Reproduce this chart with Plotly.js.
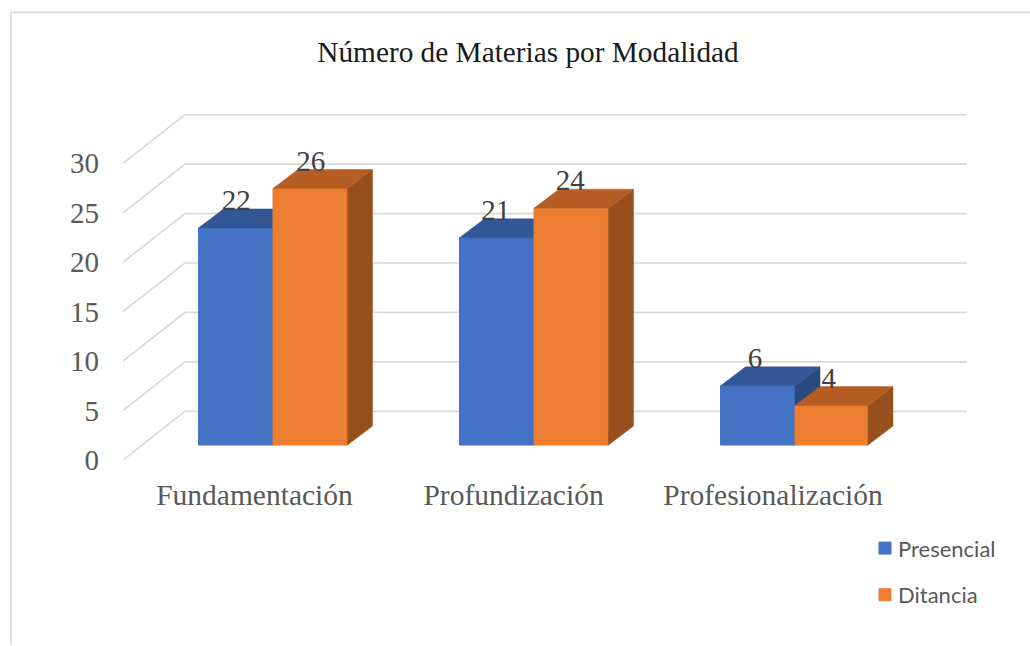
<!DOCTYPE html>
<html>
<head>
<meta charset="utf-8">
<script src="https://cdn.plot.ly/plotly-3.0.1.min.js"></script>
<style>html,body{margin:0;padding:0;background:#fff}#c{width:1030px;height:646px}</style>
</head>
<body>
<div id="c"></div>
<script>
var categories = ['Fundamentación', 'Profundización', 'Profesionalización'];
var presencial = [22, 21, 6];
var distancia = [26, 24, 4];
var seriesNames = ['Presencial', 'Ditancia'];
var axisTicks = [0, 5, 10, 15, 20, 25, 30];

var W = 1030, H = 646;
var m = {l: 123, r: 63, t: 113.5, b: 185.5};
var pw = W - m.l - m.r, ph = H - m.t - m.b;
var idx = categories.map(function (_, i) { return i; });

var xRange = [-0.5747, 2.659];
var wallRange = [0, 34.99];
var barRange = [-1.515, 33.54];
var barW = 0.2854;
var blueWidths = [barW, barW, barW];
var orangeWidths = [barW, barW, 0.2797];
var depthX = 0.0958, depthY = 1.92;
var wallX = 0.2375, wallY = 4.92;
var labelLift = 2.55;
var categoryLabelShift = [-0.0709, -0.0785, -0.0843];
var valueLabelShift = [0.002, -0.004, -0.011];

function faces(values, left, widths) {
  var top = {x: [], y: []}, side = {x: [], y: []};
  values.forEach(function (v, i) {
    var a = i + left, b = a + widths[i];
    top.x.push(a, a + depthX, b + depthX, b, a, null);
    top.y.push(v, v + depthY, v + depthY, v, v, null);
    side.x.push(b, b + depthX, b + depthX, b, b, null);
    side.y.push(v, v + depthY, depthY, 0, v, null);
  });
  return {top: top, side: side};
}

function poly(f, color, ya) {
  return {type: 'scatter', mode: 'lines', x: f.x, y: f.y, yaxis: ya, fill: 'toself', fillcolor: color,
    line: {color: color, width: 0.5}, showlegend: false, hoverinfo: 'skip', connectgaps: false};
}

var data = [];
axisTicks.forEach(function (v) {
  data.push({type: 'scatter', mode: 'lines', yaxis: 'y',
    x: [xRange[0], xRange[0] + wallX, xRange[1]],
    y: [v, v + wallY, v + wallY],
    line: {color: '#d9d9d9', width: 1.7}, showlegend: false, hoverinfo: 'skip'});
});

function addSeries(values, name, left, widths, front, topC, sideC, ya) {
  var f = faces(values, left, widths);
  data.push({type: 'bar', name: name, x: idx, y: values, yaxis: ya, width: widths, offset: left,
    legendgroup: name, marker: {color: front, line: {color: front, width: 1}}, hoverinfo: 'skip'});
  data.push(poly(f.side, sideC, ya));
  data.push(poly(f.top, topC, ya));
}
addSeries(presencial, seriesNames[0], -barW, blueWidths, '#4472c4', '#325696', '#284a80', 'y2');
addSeries(distancia, seriesNames[1], 0, orangeWidths, '#ed7d31', '#b55d22', '#97501d', 'y3');

function labels(values, left, widths) {
  return {type: 'scatter', mode: 'text', yaxis: 'y3',
    x: idx.map(function (i) { return i + left + widths[i] / 2 + valueLabelShift[i]; }),
    y: values.map(function (v) { return v + labelLift; }),
    text: values.map(String), textposition: 'middle center',
    textfont: {family: 'Liberation Serif', size: 29, color: '#404040'},
    showlegend: false, hoverinfo: 'skip', cliponaxis: false};
}
data.push(labels(presencial, -barW, blueWidths));
data.push(labels(distancia, 0, orangeWidths));

function px(x) { return (x - m.l) / pw; }
function py(y) { return (H - m.b - y) / ph; }

var layout = {
  width: W, height: H, paper_bgcolor: '#fff', plot_bgcolor: 'rgba(0,0,0,0)',
  margin: {l: m.l, r: m.r, t: m.t, b: m.b, pad: 0, autoexpand: false},
  showlegend: true,
  title: {text: 'Número de Materias por Modalidad', x: 528 / W, xanchor: 'center', y: 1 - 52 / H, yanchor: 'middle',
    font: {family: 'Liberation Serif', size: 29.3, color: '#1a1a1a'}},
  xaxis: {range: xRange, tickmode: 'array',
    tickvals: idx.map(function (i) { return i + categoryLabelShift[i]; }), ticktext: categories,
    tickfont: {family: 'Liberation Serif', size: 29.5, color: '#595959'},
    showgrid: false, zeroline: false, showline: false, ticks: '', ticklabelstandoff: 14, fixedrange: true},
  yaxis: {range: wallRange, tickmode: 'array', tickvals: axisTicks, ticktext: axisTicks.map(String),
    tickfont: {family: 'Liberation Serif', size: 29, color: '#595959'},
    showgrid: false, zeroline: false, showline: false, ticks: '', ticklabelstandoff: 23, fixedrange: true},
  yaxis2: {range: barRange, overlaying: 'y', visible: false, fixedrange: true},
  yaxis3: {range: barRange, overlaying: 'y', visible: false, fixedrange: true},
  legend: {x: px(858), y: py(528), xanchor: 'left', yanchor: 'top', traceorder: 'grouped', tracegroupgap: 15,
    font: {family: 'Lato', size: 22, color: '#595959'}, bgcolor: 'rgba(0,0,0,0)', borderwidth: 0},
  shapes: [{type: 'path', xref: 'paper', yref: 'paper',
    path: 'M' + px(11) + ',' + py(H) + 'L' + px(11) + ',' + py(11.5) + 'L' + px(1030) + ',' + py(11.5),
    line: {color: '#d9d9d9', width: 1.7}, layer: 'below'}]
};

Plotly.newPlot('c', data, layout, {displayModeBar: false}).then(function (gd) {
  gd.querySelectorAll('.legend .legendsymbols').forEach(function (s) {
    s.setAttribute('transform', 'translate(7,0)');
  });
});
</script>
</body>
</html>
